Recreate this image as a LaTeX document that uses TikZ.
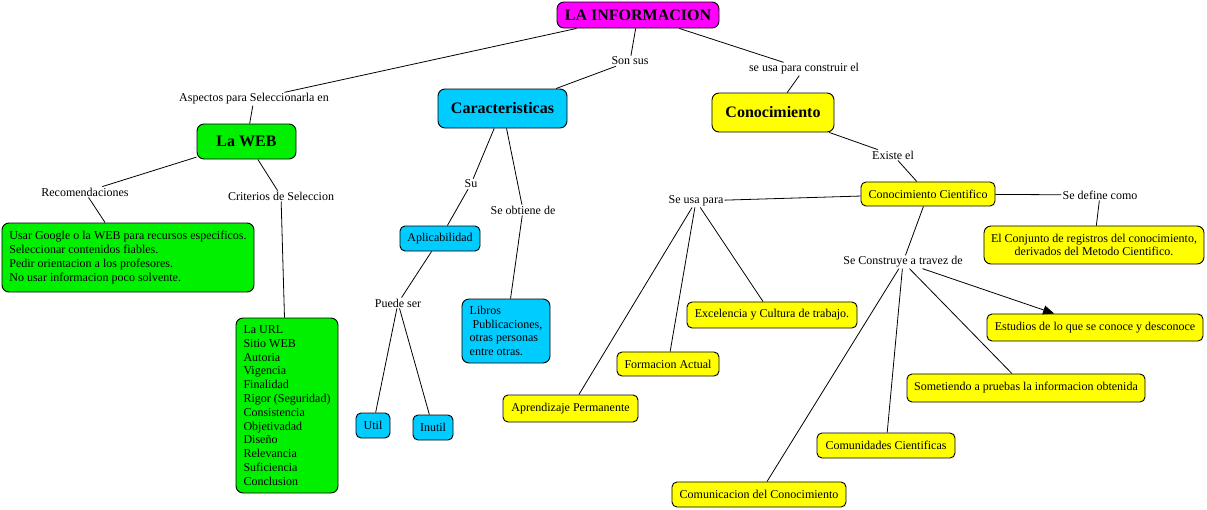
\documentclass[tikz,border=0pt]{standalone}
\usepackage{fontspec}
\setmainfont{Liberation Serif}
\usetikzlibrary{arrows.meta}
\definecolor{cmag}{RGB}{255,0,255}
\definecolor{ccyan}{RGB}{0,204,255}
\definecolor{cyel}{RGB}{255,255,0}
\definecolor{cgreen}{RGB}{0,240,0}
\tikzset{
  concept/.style={draw=black, line width=0.9pt, rounded corners=5pt, inner sep=0pt,
    font=\fontsize{12}{13.8}\selectfont, text=black},
  bigc/.style={concept, rounded corners=7pt, font=\fontsize{16}{19}\selectfont\bfseries},
  lbl/.style={inner sep=1pt, font=\fontsize{12}{13.8}\selectfont, text=black},
  link/.style={draw=black, line width=0.8pt},
  arrowlink/.style={link, -{Triangle[length=11pt,width=9pt]}}
}
\begin{document}
\begin{tikzpicture}[x=1pt,y=-1pt]
\useasboundingbox (0,0) rectangle (1207,509);
% concepts
\node[bigc, fill=cmag, minimum width=162pt, minimum height=26pt] (info) at (638,15) {LA INFORMACION};
\node[bigc, fill=ccyan, minimum width=129pt, minimum height=39pt] (carac) at (502.5,108.5) {Caracteristicas};
\node[bigc, fill=cyel, minimum width=122pt, minimum height=39pt] (conoc) at (773,112.5) {Conocimiento};
\node[bigc, fill=cgreen, minimum width=99pt, minimum height=35pt] (web) at (246.5,141.5) {La WEB};
\node[concept, rounded corners=7pt, fill=cgreen, minimum width=252pt, minimum height=69pt, align=left] (recom) at (128,257.5)
 {Usar Google o la WEB para recursos especificos.\\Seleccionar contenidos fiables.\\Pedir orientacion a los profesores.\\No usar informacion poco solvente.};
\node[concept, rounded corners=7pt, fill=cgreen, minimum width=102pt, minimum height=175pt, align=left] (crit) at (287,405.5)
 {La URL\\Sitio WEB\\Autoria\\Vigencia\\Finalidad\\Rigor (Seguridad)\\Consistencia\\Objetivadad\\Diseño\\Relevancia\\Suficiencia\\Conclusion};
\node[concept, fill=ccyan, minimum width=34pt, minimum height=25pt] (util) at (373,425.5) {Util};
\node[concept, fill=ccyan, minimum width=40pt, minimum height=25pt] (inutil) at (433,427.5) {Inutil};
\node[concept, rounded corners=7pt, fill=ccyan, minimum width=88pt, minimum height=64pt, align=left] (libros) at (506,331)
 {Libros\\\hspace*{3pt}Publicaciones,\\otras personas\\entre otras.};
\node[concept, fill=ccyan, minimum width=80pt, minimum height=25pt] (aplic) at (440,238.5) {Aplicabilidad};
\node[concept, fill=cyel, minimum width=135pt, minimum height=27pt] (aprend) at (570.5,408.5) {Aprendizaje Permanente};
\node[concept, fill=cyel, minimum width=102pt, minimum height=24pt] (formac) at (668,364) {Formacion Actual};
\node[concept, fill=cyel, minimum width=170pt, minimum height=26pt] (excel) at (772,315) {Excelencia y Cultura de trabajo.};
\node[concept, fill=cyel, minimum width=174pt, minimum height=25pt] (comunic) at (759,494.5) {Comunicacion del Conocimiento};
\node[concept, fill=cyel, minimum width=138pt, minimum height=25pt] (comunid) at (886,445.5) {Comunidades Cientificas};
\node[concept, fill=cyel, minimum width=238pt, minimum height=28pt] (somet) at (1026,388) {Sometiendo a pruebas la informacion obtenida};
\node[concept, fill=cyel, minimum width=216pt, minimum height=27pt] (estud) at (1095,327.5) {Estudios de lo que se conoce y desconoce};
\node[concept, fill=cyel, minimum width=134pt, minimum height=24pt] (cc) at (928,194) {Conocimiento Cientifico};
\node[concept, rounded corners=7pt, fill=cyel, minimum width=220pt, minimum height=38pt, align=center] (conj) at (1094,245)
 {El Conjunto de registros del conocimiento,\\derivados del Metodo Cientifico.};
% link labels
\node[lbl] (asp) at (254,99) {Aspectos para Seleccionarla en};
\node[lbl] (son) at (630,61) {Son sus};
\node[lbl] (usa) at (804,69) {se usa para construir el};
\node[lbl] (recl) at (85,192) {Recomendaciones};
\node[lbl] (critl) at (281,196) {Criterios de Seleccion};
\node[lbl] (su) at (471,184) {Su};
\node[lbl] (obt) at (523,210) {Se obtiene de};
\node[lbl] (puede) at (398,303) {Puede ser};
\node[lbl] (existe) at (893,155) {Existe el};
\node[lbl] (define) at (1100,195) {Se define como};
\node[lbl] (seusa) at (696,201) {Se usa para};
\node[lbl] (constr) at (903,262) {Se Construye a travez de};
% connectors
\draw[link] (info) -- (asp);
\draw[link] (asp) -- (web);
\draw[link] (info) -- (son);
\draw[link] (son) -- (carac);
\draw[link] (info) -- (usa);
\draw[link] (usa) -- (conoc);
\draw[link] (web) -- (recl);
\draw[link] (recl) -- (recom);
\draw[link] (web) -- (critl);
\draw[link] (critl) -- (crit);
\draw[link] (carac) -- (su);
\draw[link] (su) -- (aplic);
\draw[link] (carac) -- (obt);
\draw[link] (obt) -- (libros);
\draw[link] (aplic) -- (puede);
\draw[link] (puede) -- (util);
\draw[link] (puede) -- (inutil);
\draw[link] (conoc) -- (existe);
\draw[link] (existe) -- (cc);
\draw[link] (cc) -- (define);
\draw[link] (define) -- (conj);
\draw[link] (cc) -- (seusa);
\draw[link] (seusa) -- (aprend);
\draw[link] (seusa) -- (formac);
\draw[link] (seusa) -- (excel);
\draw[link] (cc) -- (constr);
\draw[link] (constr) -- (comunic);
\draw[link] (constr) -- (comunid);
\draw[link] (constr) -- (somet);
\draw[arrowlink] (constr) -- (estud);
\end{tikzpicture}
\end{document}
